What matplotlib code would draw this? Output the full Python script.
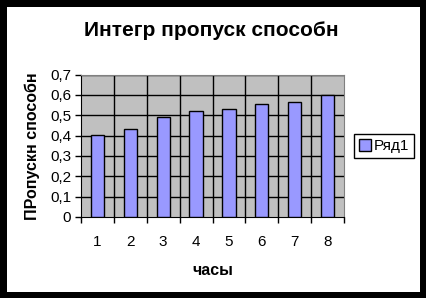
import matplotlib
matplotlib.use('Agg')
import matplotlib.pyplot as plt
from matplotlib.patches import Rectangle

plt.rcParams['font.family'] = ['Liberation Sans', 'DejaVu Sans']

# data
hours = [1, 2, 3, 4, 5, 6, 7, 8]
values = [0.405, 0.431, 0.49, 0.519, 0.529, 0.554, 0.564, 0.598]
y_ticks = [0, 0.1, 0.2, 0.3, 0.4, 0.5, 0.6, 0.7]
y_tick_labels = ['0', '0,1', '0,2', '0,3', '0,4', '0,5', '0,6', '0,7']
series_name = 'Ряд1'

W, H = 426, 298
fig = plt.figure(figsize=(W / 100, H / 100), dpi=100)
fig.patch.set_facecolor('black')
# white chart area inside the black frame
fig.patches.append(Rectangle((7 / W, 6 / H), 413 / W, 285 / H, transform=fig.transFigure,
                             facecolor='white', edgecolor='none', zorder=-10))

ax = fig.add_axes([81 / W, (H - 217) / H, 263 / W, 142.5 / H])
ax.set_facecolor('#C0C0C0')

bars = ax.bar(hours, values, width=0.4, color='#9999FF', edgecolor='black', linewidth=1,
              zorder=3, label=series_name)

ax.set_xlim(0.5, 8.5)
ax.set_ylim(0, 0.7)

# gridlines: horizontal at y ticks, vertical at category boundaries
for y in y_ticks[1:]:
    ax.axhline(y, color='black', linewidth=1, zorder=1)
for b in range(1, 8):
    ax.axvline(b + 0.5, color='black', linewidth=1, zorder=1)

ax.set_yticks(y_ticks)
ax.set_yticklabels(y_tick_labels)
ax.set_xticks(hours)
ax.set_xticklabels([str(h) for h in hours])
ax.set_xticks([h + 0.5 for h in range(0, 9)], minor=True)
ax.tick_params(axis='x', which='major', length=0, pad=13, labelsize=11)
ax.tick_params(axis='x', which='minor', length=4, width=1, direction='out')
ax.tick_params(axis='y', length=4, width=1, direction='out', pad=3, labelsize=11)

for side in ['top', 'right']:
    ax.spines[side].set_color('#808080')
for side in ['left', 'bottom']:
    ax.spines[side].set_color('black')

ax.set_xlabel('часы', fontsize=11.5, fontweight='bold', labelpad=10)
ax.set_ylabel('ПРопускн способн', fontsize=11.5, fontweight='bold', labelpad=7)

fig.text(211 / W, (H - 30) / H, 'Интегр пропуск способн', ha='center', va='center',
         fontsize=15, fontweight='bold')

leg = fig.legend(handles=[bars], labels=[series_name], loc='center left',
                 bbox_to_anchor=(354 / W, (H - 146) / H), fontsize=11, fancybox=False,
                 edgecolor='black', framealpha=1, handlelength=0.8, handleheight=0.8,
                 handletextpad=0.2, borderpad=0.3, borderaxespad=0)
leg.get_frame().set_linewidth(1)

fig.savefig('out.png', dpi=100, facecolor=fig.get_facecolor())
